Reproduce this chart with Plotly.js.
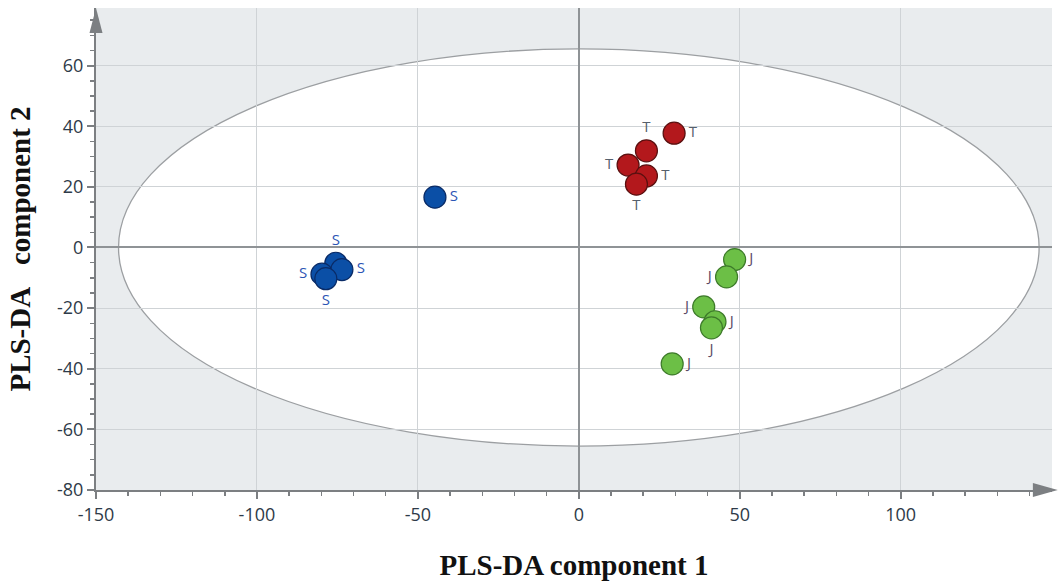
<!DOCTYPE html>
<html>
<head>
<meta charset="utf-8">
<script src="https://cdn.plot.ly/plotly-3.0.1.min.js"></script>
<style>
  html, body { margin: 0; padding: 0; background: #ffffff; }
  #chart { width: 1059px; height: 584px; }
</style>
</head>
<body>
<div id="chart"></div>
<script>
// Data
const sX = [-44.7, -75.5, -79.8, -73.6, -78.6];
const sY = [16.6, -5.2, -8.8, -7.3, -10.3];
const sLabel = ["S", "S", "S", "S", "S"];
const sPos = ["middle right", "top center", "middle left", "middle right", "bottom center"];

const tX = [29.6, 21.0, 15.3, 21.0, 17.9];
const tY = [37.7, 31.9, 27.2, 23.6, 20.9];
const tLabel = ["T", "T", "T", "T", "T"];
const tPos = ["middle right", "top center", "middle left", "middle right", "bottom center"];

const jX = [48.4, 45.9, 38.8, 42.3, 41.2, 29.0];
const jY = [-4.0, -9.7, -19.6, -24.5, -26.5, -38.4];
const jLabel = ["J", "J", "J", "J", "J", "J"];
const jPos = ["middle right", "middle left", "middle left", "middle right", "bottom center", "middle right"];

// tick values and labels
const xTicks = [-150, -100, -50, 0, 50, 100];
const xTickText = ["-150", "-100", "-50", "0", "50", "100"];
const yTicks = [-80, -60, -40, -20, 0, 20, 40, 60];
const yTickText = ["-80", "-60", "-40", "-20", "0", "20", "40", "60"];

// Hotelling ellipse semi-axes
const ellipseA = 143;
const ellipseB = 65.5;

const xRange = [-150, 147];
const yRange = [-80, 79];

function group(x, y, labels, pos, fill, edge, textColor) {
  return {
    type: "scatter",
    mode: "markers+text",
    x: x, y: y,
    text: labels,
    textposition: pos,
    textfont: {family: "Open Sans, DejaVu Sans, sans-serif", size: 15, color: textColor},
    marker: {size: 22, color: fill, line: {color: edge, width: 1.2}},
    cliponaxis: false,
    hoverinfo: "skip",
    showlegend: false
  };
}

const traces = [
  group(sX, sY, sLabel, sPos, "#0b4fa6", "#0a2b66", "#2c55b5"),
  group(tX, tY, tLabel, tPos, "#b3181c", "#5a1010", "#56606c"),
  group(jX, jY, jLabel, jPos, "#6cbf46", "#3d7a2a", "#5b4a66")
];

const axisCommon = {
  showline: true,
  linecolor: "#7c7f82",
  linewidth: 2,
  mirror: false,
  ticks: "outside",
  ticklen: 7,
  tickwidth: 2,
  tickcolor: "#7c7f82",
  showgrid: true,
  gridcolor: "#cfd3d6",
  gridwidth: 1,
  zeroline: true,
  zerolinecolor: "#8f9396",
  zerolinewidth: 2,
  tickfont: {family: "Open Sans, DejaVu Sans, sans-serif", size: 18, color: "#2e3a48"},
  fixedrange: true
};

const titleFont = {family: "Liberation Serif, Times New Roman, serif", size: 29, color: "#111111", weight: "bold"};

const layout = {
  width: 1059,
  height: 584,
  margin: {l: 96, r: 7, t: 8, b: 94},
  paper_bgcolor: "#ffffff",
  plot_bgcolor: "#e9ecee",
  showlegend: false,
  xaxis: Object.assign({}, axisCommon, {
    range: xRange,
    tickmode: "array",
    tickvals: xTicks,
    ticktext: xTickText,
    minor: {dtick: 10, tick0: 0, ticks: "outside", ticklen: 4, tickwidth: 1.5, tickcolor: "#7c7f82", showgrid: false},
    title: {text: "PLS-DA component 1", standoff: 30, font: titleFont}
  }),
  yaxis: Object.assign({}, axisCommon, {
    range: yRange,
    tickmode: "array",
    tickvals: yTicks,
    ticktext: yTickText,
    minor: {dtick: 5, tick0: 0, ticks: "outside", ticklen: 4, tickwidth: 1.5, tickcolor: "#7c7f82", showgrid: false},
    title: {text: "PLS-DA\u00a0\u00a0\u00a0component 2", standoff: 18, font: titleFont}
  }),
  shapes: [
    {type: "circle", xref: "x", yref: "y", x0: -ellipseA, x1: ellipseA, y0: -ellipseB, y1: ellipseB,
     fillcolor: "#ffffff", line: {color: "#9c9fa2", width: 1.3}, layer: "below"},
    // axis arrow heads
    {type: "path", xref: "paper", yref: "paper",
     path: "M 0.980 -0.0145 L 1.006 0 L 0.980 0.0145 Z", line: {width: 0}, fillcolor: "#7c7f82", layer: "above"},
    {type: "path", xref: "paper", yref: "paper",
     path: "M -0.0068 0.948 L 0.0068 0.948 L 0 1.0 Z", line: {width: 0}, fillcolor: "#7c7f82", layer: "above"}
  ]
};

Plotly.newPlot("chart", traces, layout, {displayModeBar: false, staticPlot: true});
</script>
</body>
</html>
